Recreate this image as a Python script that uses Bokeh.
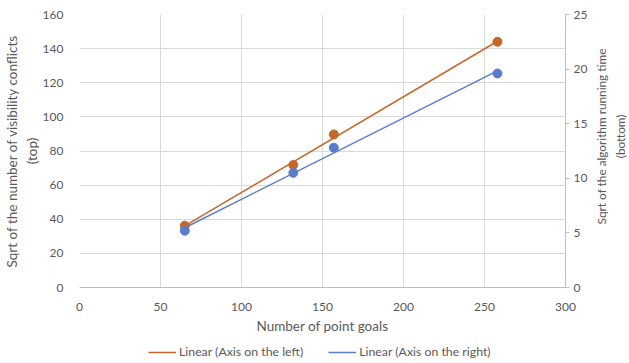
import math
import numpy as np
from bokeh.plotting import figure
from bokeh.layouts import column, row
from bokeh.core.properties import value
from bokeh.models import Range1d, LinearAxis, FixedTicker, Legend, LegendItem
from bokeh.embed import file_html
from bokeh.resources import INLINE

point_goals = [65, 132, 157, 258]
sqrt_conflicts = [36.2, 71.8, 89.7, 144.0]
sqrt_runtime = [5.2, 10.5, 12.8, 19.6]

x_ticks = [0, 50, 100, 150, 200, 250, 300]
left_ticks = [0, 20, 40, 60, 80, 100, 120, 140, 160]
right_ticks = [0, 5, 10, 15, 20, 25]

legend_labels = ["Linear (Axis on the left)", "Linear (Axis on the right)"]
x_title = "Number of point goals"
left_title = "Sqrt of the number of visibility conflicts\n(top)"
right_title = "Sqrt of the algorithm running time\n(bottom)"

ORANGE = "#C5672A"
BLUE = "#5A7DCB"
TEXT = "#595959"
GRID = "#D9D9D9"
FONT = "Lato"

p = figure(width=596, height=336, output_backend="svg", toolbar_location=None,
           x_range=Range1d(0, 300), y_range=Range1d(0, 160))
p.frame_align = False
p.extra_y_ranges = {"right": Range1d(0, 25)}
p.min_border_left = 79
p.min_border_right = 31
p.min_border_top = 14
p.min_border_bottom = 45
p.outline_line_color = None

# linear trend lines fitted to the data
xs = np.array(point_goals, dtype=float)
c1 = np.polyfit(xs, np.array(sqrt_conflicts), 1)
c2 = np.polyfit(xs, np.array(sqrt_runtime), 1)
xl = np.array([xs.min(), xs.max()])

p.line(xl, np.polyval(c1, xl), line_color=ORANGE, line_width=1.5)
p.line(xl, np.polyval(c2, xl), line_color=BLUE, line_width=1.5, y_range_name="right")
p.scatter(point_goals, sqrt_conflicts, size=9, fill_color=ORANGE, line_color=ORANGE)
p.scatter(point_goals, sqrt_runtime, size=9, fill_color=BLUE, line_color=BLUE, y_range_name="right")

p.xgrid.ticker = FixedTicker(ticks=x_ticks)
p.ygrid.ticker = FixedTicker(ticks=left_ticks)
for g in (p.xgrid[0], p.ygrid[0]):
    g.grid_line_color = GRID
    g.grid_line_width = 1

def style(ax):
    ax.major_label_text_font = FONT
    ax.major_label_text_font_size = "12px"
    ax.major_label_text_color = TEXT
    ax.axis_label_text_font = FONT
    ax.axis_label_text_font_size = "13.5px"
    ax.axis_label_text_color = TEXT
    ax.axis_label_text_font_style = "normal"
    ax.minor_tick_line_color = None

xa = p.xaxis[0]
xa.ticker = FixedTicker(ticks=x_ticks)
xa.axis_label = x_title
xa.axis_line_color = "#BFBFBF"
xa.major_tick_line_color = None
xa.major_label_standoff = 9
xa.axis_label_standoff = 4
style(xa)

ya = p.yaxis[0]
ya.ticker = FixedTicker(ticks=left_ticks)
ya.axis_label = left_title
ya.axis_line_color = None
ya.major_tick_line_color = None
ya.major_label_standoff = 10
ya.axis_label_standoff = 0
style(ya)

ra = LinearAxis(y_range_name="right", ticker=FixedTicker(ticks=right_ticks))
ra.axis_line_color = "#BFBFBF"
ra.major_tick_line_color = "#BFBFBF"
ra.major_tick_out = 4
ra.major_tick_in = 0
ra.major_label_standoff = 4
style(ra)
p.add_layout(ra, "right")

# legend strip below the chart
q = figure(width=596, height=27, output_backend="svg", toolbar_location=None,
           x_range=Range1d(0, 1), y_range=Range1d(0, 1),
           x_axis_type=None, y_axis_type=None)
q.frame_align = False
q.min_border = 0
q.outline_line_color = None
q.grid.visible = False
l1 = q.line([2, 3], [2, 3], line_color=ORANGE, line_width=1.5)
l2 = q.line([2, 3], [2, 3], line_color=BLUE, line_width=1.5)

legend = Legend(items=[LegendItem(label=legend_labels[0], renderers=[l1]),
                       LegendItem(label=legend_labels[1], renderers=[l2])],
                orientation="horizontal", location=(148, 4))
legend.label_text_font = FONT
legend.label_text_font_size = "12.3px"
legend.label_text_color = TEXT
legend.border_line_color = None
legend.background_fill_alpha = 0
legend.glyph_width = 28
legend.glyph_height = 14
legend.label_height = 14
legend.label_standoff = 3
legend.spacing = 25
legend.padding = 0
legend.margin = 0
q.add_layout(legend)

# right-hand axis title strip (reads bottom to top)
r = figure(width=33, height=363, output_backend="svg", toolbar_location=None,
           x_range=Range1d(0, 1), y_range=Range1d(0, 1),
           x_axis_type=None, y_axis_type=None)
r.frame_align = False
r.min_border_left = 0
r.min_border_right = 0
r.min_border_top = 14
r.min_border_bottom = 72
r.outline_line_color = None
r.grid.visible = False
r.text(x=[0.44], y=[0.56], text=[right_title], angle=math.pi / 2,
       text_align="center", text_baseline="middle", text_line_height=1.3,
       text_font=value(FONT), text_font_size="11.8px", text_color=TEXT)

open("out.html", "w").write(file_html(row(column(p, q, spacing=0), r, spacing=0), INLINE))
